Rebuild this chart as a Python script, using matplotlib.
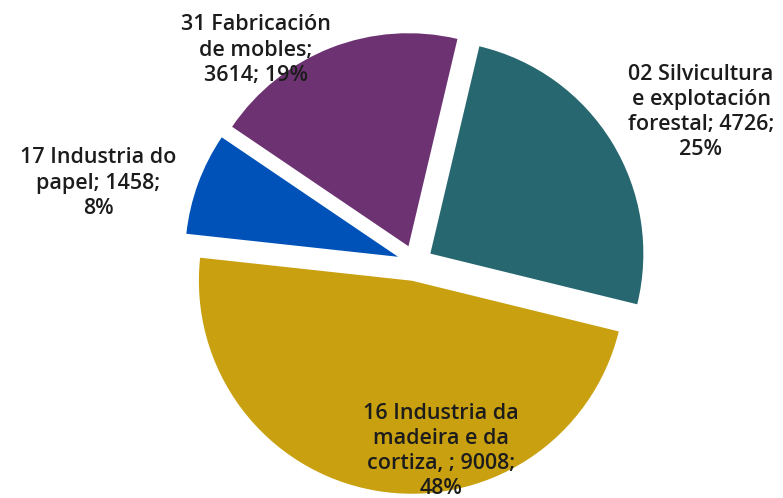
import matplotlib
matplotlib.use("Agg")
import matplotlib.pyplot as plt

# Sectors, clockwise from the first slice
categories = ["02 Silvicultura\ne explotación\nforestal", "16 Industria da\nmadeira e da\ncortiza, ",
              "17 Industria do\npapel", "31 Fabricación\nde mobles"]
values = [4726, 9008, 1458, 3614]
percents = [25, 48, 8, 19]
colors = ["#27676F", "#C9A00F", "#0052B8", "#6D3272"]

# label text breaks differ from plain "name; value; pct"
label_texts = [
    "02 Silvicultura\ne explotación\nforestal; 4726;\n25%",
    "16 Industria da\nmadeira e da\ncortiza, ; 9008;\n48%",
    "17 Industria do\npapel; 1458;\n8%",
    "31 Fabricación\nde mobles;\n3614; 19%",
]
label_pos = [(701, 112), (441, 451), (98, 183), (256, 50)]  # pixel centres, y from top

W, H = 783, 498
fig = plt.figure(figsize=(W / 100, H / 100), dpi=100)
ax = fig.add_axes([0, 0, 1, 1])

# explode is in data units here (axes are in pixels)
ax.pie(values, colors=colors, startangle=76.7, counterclock=False,
       center=(415, H - 263), radius=213, explode=[18] * 4,
       wedgeprops=dict(linewidth=0), frame=True)
ax.set_xlim(0, W)
ax.set_ylim(0, H)
ax.set_aspect("equal")
ax.axis("off")

for txt, (x, y) in zip(label_texts, label_pos):
    ax.text(x, H - y, txt, ha="center", va="center", fontsize=15.5,
            family=["Open Sans", "DejaVu Sans"], weight=600,
            color="#1c1c1c", linespacing=1.26)

fig.savefig("out.png", dpi=100)
